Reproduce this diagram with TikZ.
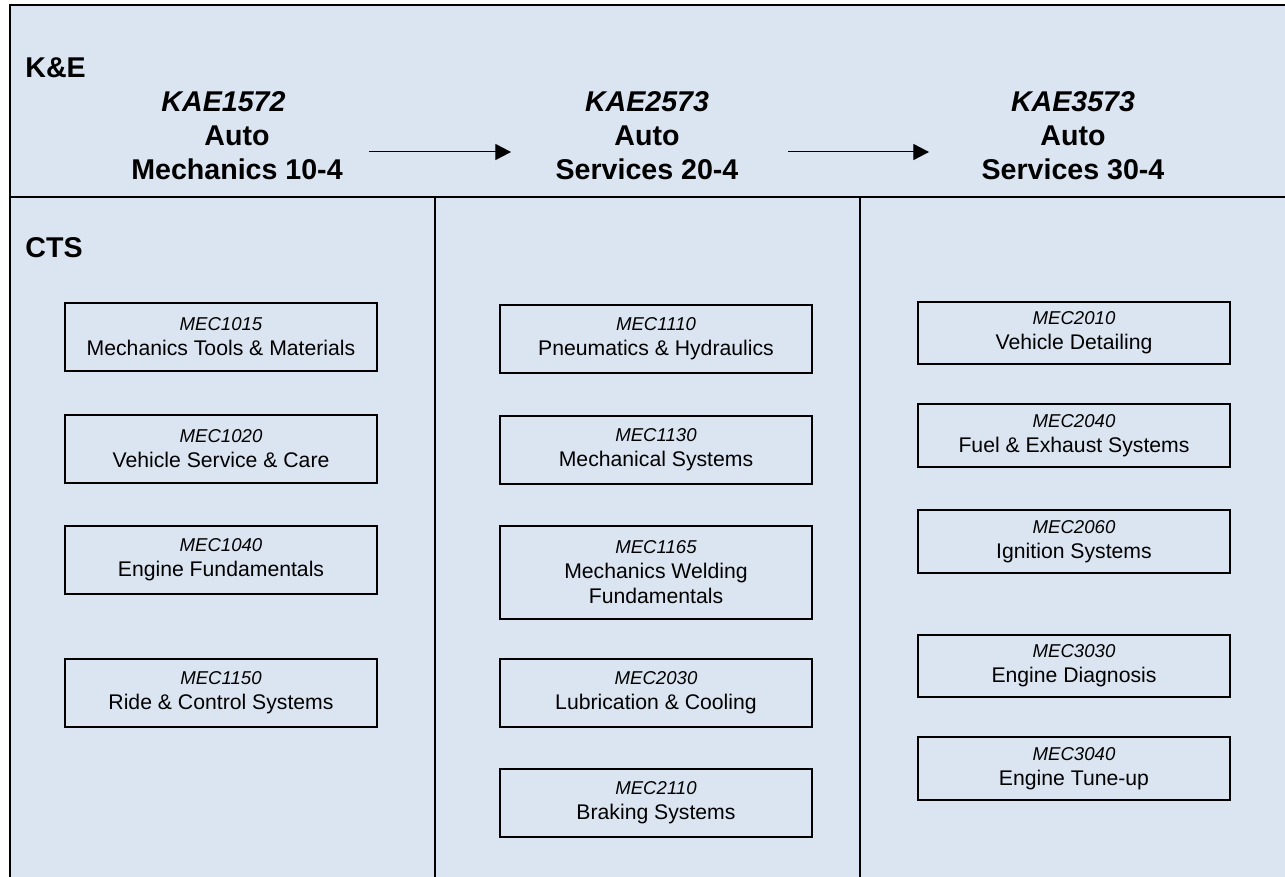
\documentclass[tikz,border=0pt]{standalone}
\usepackage{fontspec}
\setmainfont{Liberation Sans}
\usetikzlibrary{arrows.meta}
\definecolor{panelblue}{RGB}{219,229,241}
\tikzset{
  frame/.style={line width=1pt},
  course/.style={draw, line width=1pt, minimum width=156pt, minimum height=#1,
    align=center, inner sep=0pt, font=\fontsize{10.6pt}{12.5pt}\selectfont},
  course/.default=34pt,
  level/.style={anchor=north, align=center, inner sep=0pt,
    font=\bfseries\fontsize{14.3pt}{17pt}\selectfont},
  band/.style={anchor=base west, inner sep=0pt,
    font=\bfseries\fontsize{14.3pt}{17pt}\selectfont},
  flow/.style={-{Triangle[length=7.8pt,width=8pt]}, line width=0.5pt}
}
\newcommand{\crscode}[1]{{\fontsize{9.3pt}{12.5pt}\selectfont\itshape #1}}

\begin{document}
\begin{tikzpicture}[x=0.5pt,y=-0.5pt]
  \useasboundingbox (0,0) rectangle (1285,877);
  \fill[panelblue] (10,5) rectangle (1285,877);
  \draw[frame] (1285,5) -- (10,5) -- (10,877);
  \draw[frame] (10,197) -- (1285,197);
  \draw[frame] (435,197) -- (435,877);
  \draw[frame] (860,197) -- (860,877);

  \node[band] (ke) at (25,78) {K\&E};
  \node[band] (cts) at (25,258) {CTS};

  \node[level] (lvl1) at (237,91) {\textit{KAE1572}\hspace*{13.5pt}\\Auto\\Mechanics 10-4};
  \node[level] (lvl2) at (647,91) {\textit{KAE2573}\\Auto\\Services 20-4};
  \node[level] (lvl3) at (1073,91) {\textit{KAE3573}\\Auto\\Services 30-4};
  \coordinate (go1) at (369,152);
  \coordinate (to1) at (511,152);
  \coordinate (go2) at (788,152);
  \coordinate (to2) at (929,152);
  \draw[flow] (go1) -- (to1);
  \draw[flow] (go2) -- (to2);

  \node[course] (m1015) at (221,337) {\crscode{MEC1015}\\Mechanics Tools \& Materials};
  \node[course] (m1020) at (221,449) {\crscode{MEC1020}\\Vehicle Service \& Care};
  \node[course] (m1040) at (221,559.5) {\crscode{MEC1040}\\Engine Fundamentals};
  \node[course] (m1150) at (221,693) {\crscode{MEC1150}\\Ride \& Control Systems};

  \node[course] (m1110) at (656,339) {\crscode{MEC1110}\\Pneumatics \& Hydraulics};
  \node[course] (m1130) at (656,449.5) {\crscode{MEC1130}\\Mechanical Systems};
  \node[course=46.5pt] (m1165) at (656,572.5) {\crscode{MEC1165}\\Mechanics Welding\\Fundamentals};
  \node[course] (m2030) at (656,693) {\crscode{MEC2030}\\Lubrication \& Cooling};
  \node[course] (m2110) at (656,802.5) {\crscode{MEC2110}\\Braking Systems};

  \node[course=31pt] (m2010) at (1074,333) {\crscode{MEC2010}\\Vehicle Detailing};
  \node[course=31.5pt] (m2040) at (1074,435.5) {\crscode{MEC2040}\\Fuel \& Exhaust Systems};
  \node[course=31.5pt] (m2060) at (1074,541.5) {\crscode{MEC2060}\\Ignition Systems};
  \node[course=31pt] (m3030) at (1074,666) {\crscode{MEC3030}\\Engine Diagnosis};
  \node[course=31.5pt] (m3040) at (1074,768.5) {\crscode{MEC3040}\\Engine Tune-up};
\end{tikzpicture}
\end{document}
